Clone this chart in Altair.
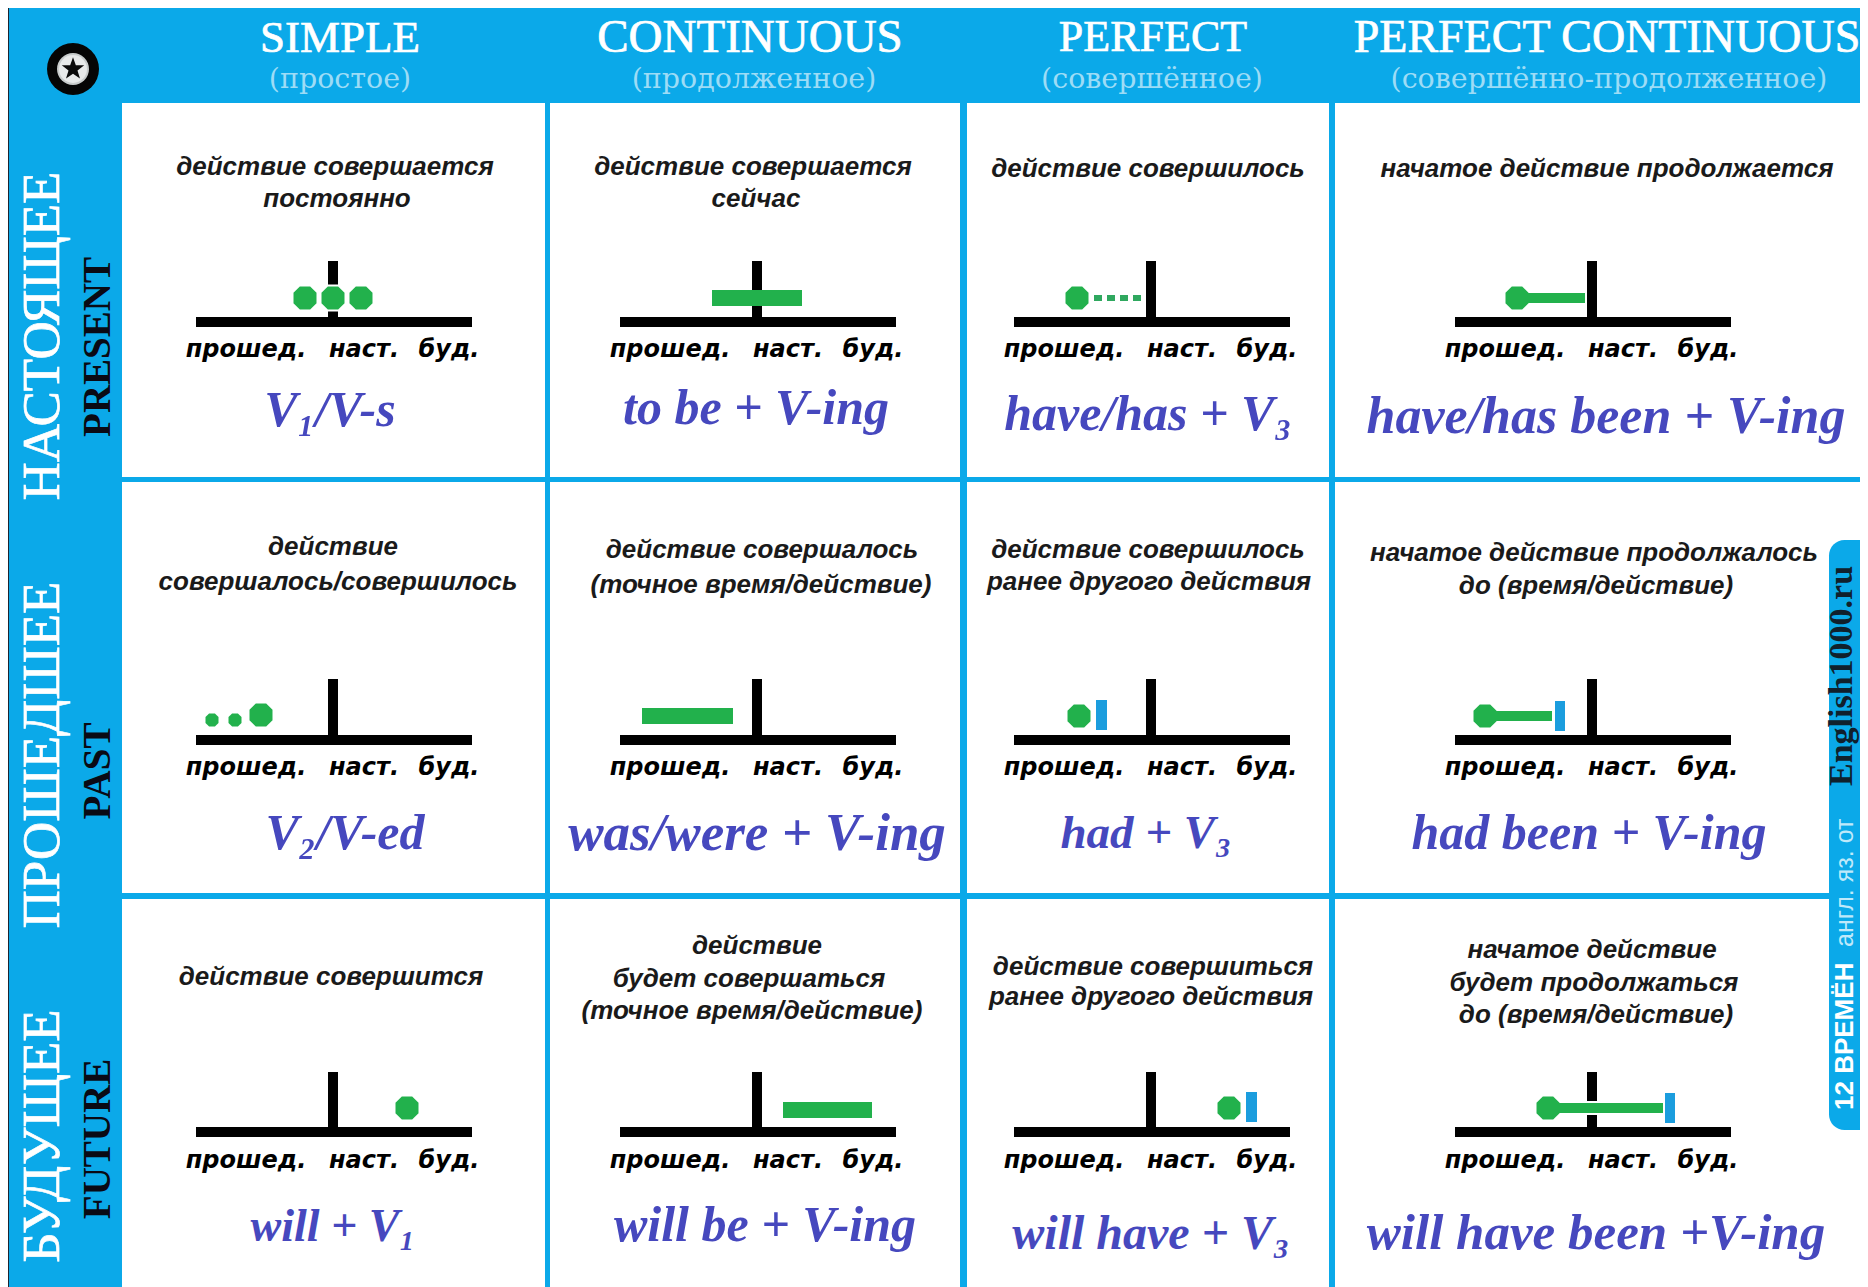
import altair as alt
import pandas as pd

W, H = 1868, 1287
BLUE = "#0BA9E9"
GREEN = "#22B14C"
TICK = "#1B9DDE"
INK = "#4648BE"
VIEW_W = W - 16
VIEW_H = H - 8

# ---- grid
cell_x = [[122, 545], [550, 960], [967, 1329], [1335, 1868]]
cell_y = [[103, 477], [482, 893], [899, 1287]]

# ---- headers
col_heads = ["SIMPLE", "CONTINUOUS", "PERFECT", "PERFECT CONTINUOUS"]
col_head_x = [340, 750, 1153, 1607]
col_head_fs = [45, 47, 44, 46]
col_subs = ["(простое)", "(продолженное)", "(совершённое)", "(совершённо-продолженное)"]
col_sub_x = [340, 754, 1152, 1609]

row_ru = ["НАСТОЯЩЕЕ", "ПРОШЕДШЕЕ", "БУДУЩЕЕ"]
row_ru_y = [336, 755, 1136]
row_en = ["PRESENT", "PAST", "FUTURE"]
row_en_y = [347, 771, 1139]

# ---- descriptions: text, x, y
desc_text = [
    "действие совершается", "постоянно", "действие совершается", "сейчас",
    "действие совершилось", "начатое действие продолжается",
    "действие", "совершалось/совершилось", "действие совершалось", "(точное время/действие)",
    "действие совершилось", "ранее другого действия", "начатое действие продолжалось", "до (время/действие)",
    "действие совершится", "действие", "будет совершаться", "(точное время/действие)",
    "действие совершиться", "ранее другого действия", "начатое действие", "будет продолжаться", "до (время/действие)",
]
desc_x = [335, 337, 753, 756, 1148, 1607, 333, 338, 762, 761, 1148, 1149, 1594, 1596,
          331, 757, 749, 752, 1153, 1151, 1592, 1594, 1596]
desc_y = [167, 199, 167, 199, 169, 169, 547, 582, 550, 585, 550, 582, 553, 586,
          977, 946, 979, 1011, 967, 997, 950, 983, 1015]

# ---- formulas
form_text = ["V₁/V-s", "to be + V-ing", "have/has + V₃", "have/has been + V-ing",
             "V₂/V-ed", "was/were + V-ing", "had + V₃", "had been + V-ing",
             "will + V₁", "will be + V-ing", "will have + V₃", "will have been +V-ing"]
form_x = [330, 756, 1148, 1606, 345, 757, 1146, 1589, 333, 765, 1151, 1596]
form_y = [411, 409, 415, 417, 834, 834, 834, 834, 1227, 1226, 1235, 1234]
form_fs = [50, 50, 50, 52, 50, 53, 47, 50, 46, 50, 48, 51]

# ---- timelines
axis_cx = [333, 757, 1151, 1592]
axis_base = [322, 740, 1132]
axis_top = [261, 679, 1072]
axis_left = -137
axis_right = 139
label_text = ["прошед.", "наст.", "буд."]
label_dx = [-87, 31, 116]
label_y = [350, 768, 1161]

dot_x = [305, 333, 361, 1077, 1517, 261, 1079, 1485, 407, 1229, 1548]
dot_y = [298, 298, 298, 298, 298, 715, 716, 716, 1108, 1108, 1108]
small_dot_x = [212, 235]
small_dot_y = [720, 720]

bar_x = [712, 642, 783]
bar_x2 = [802, 733, 872]
bar_y = [298, 716, 1110]
line_x = [1517, 1485, 1548]
line_x2 = [1585, 1552, 1663]
line_y = [298, 716, 1108]
tick_x = [1096, 1555, 1246, 1665]
tick_x2 = [1107, 1565, 1257, 1675]
tick_y = [700, 701, 1092, 1093]
tick_y2 = [730, 731, 1122, 1123]
dash_x = [1094]
dash_x2 = [1145]
dash_y = [298]

# ---- side tab
tab_text = ["12 ВРЕМЁН", "англ. яз. от", "English1000.ru"]
tab_y = [1110, 947, 786]

OCT = "M-0.45,-1L0.45,-1L1,-0.45L1,0.45L0.45,1L-0.45,1L-1,0.45L-1,-0.45Z"
STAR = "M0,-1L0.24,-0.32L0.95,-0.31L0.38,0.12L0.59,0.81L0,0.4L-0.59,0.81L-0.38,0.12L-0.95,-0.31L-0.24,-0.32Z"

xs = alt.Scale(domain=[8, 8 + VIEW_W], range=[0, VIEW_W])
ys = alt.Scale(domain=[8, 8 + VIEW_H], range=[0, VIEW_H])
X = alt.X("x:Q", scale=xs, axis=None)
Y = alt.Y("y:Q", scale=ys, axis=None)


def cx(v):
    return min(v, 8 + VIEW_W)


def cy(v):
    return min(v, 8 + VIEW_H)


def rects(rows, color, **mk):
    return alt.Chart(pd.DataFrame(rows)).mark_rect(color=color, **mk).encode(
        x=X, x2="x2:Q", y=Y, y2="y2:Q")


def texts(rows, **mk):
    return alt.Chart(pd.DataFrame(rows)).mark_text(**mk).encode(x=X, y=Y, text="t:N")


def points(xl, yl, shape, size, color, **mk):
    return alt.Chart(pd.DataFrame({"x": xl, "y": yl})).mark_point(
        shape=shape, size=size, filled=True, fill=color, opacity=1, **mk).encode(x=X, y=Y)


layers = []
# page furniture
layers.append(rects([{"x": 7, "x2": cx(W), "y": 6, "y2": cy(H)}], "#1d2430"))
layers.append(rects([{"x": 9, "x2": cx(W), "y": 8, "y2": cy(H)}], BLUE))
layers.append(rects([{"x": a, "x2": cx(b), "y": c, "y2": cy(d)} for a, b in cell_x for c, d in cell_y], "#ffffff"))
# emblem
layers.append(points([73], [69], "circle", 2700, "#050505"))
layers.append(points([73], [69], "circle", 1020, "#c8cccc"))
layers.append(points([73], [69], "circle", 780, "#e8eaea"))
layers.append(points([73], [69], STAR, 560, "#0a0a0a"))
# timelines
layers.append(rects([{"x": c + axis_left, "x2": c + axis_right, "y": b - 5, "y2": b + 5}
                     for c in axis_cx for b in axis_base], "#000000"))
layers.append(rects([{"x": c - 5, "x2": c + 5, "y": t, "y2": b}
                     for c in axis_cx for t, b in zip(axis_top, axis_base)], "#000000"))
layers.append(rects([{"x": a, "x2": b, "y": y - 8, "y2": y + 8}
                     for a, b, y in zip(bar_x, bar_x2, bar_y)], GREEN))
layers.append(rects([{"x": a, "x2": b, "y": y - 6, "y2": y + 6}
                     for a, b, y in zip(line_x, line_x2, line_y)], GREEN, stroke="#ffffff", strokeWidth=2))
layers.append(rects([{"x": a, "x2": b, "y": c, "y2": d}
                     for a, b, c, d in zip(tick_x, tick_x2, tick_y, tick_y2)], TICK))
layers.append(alt.Chart(pd.DataFrame({"x": dash_x, "x2": dash_x2, "y": dash_y})).mark_rule(
    color="#2FA85F", strokeWidth=6, strokeDash=[8, 5]).encode(x=X, x2="x2:Q", y=Y))
layers.append(points(dot_x, dot_y, OCT, 625, GREEN, stroke="#ffffff", strokeWidth=2))
layers.append(points(small_dot_x, small_dot_y, OCT, 169, GREEN))
# the line joins its dot without a white seam
layers.append(rects([{"x": a, "x2": b, "y": y - 5, "y2": y + 5}
                     for a, b, y in zip(line_x, line_x2, line_y)], GREEN))
# headers
layers.append(alt.Chart(pd.DataFrame({"t": col_heads, "x": col_head_x, "y": [38] * 4, "fs": col_head_fs})).mark_text(
    font="Liberation Serif", color="#ffffff", stroke="#ffffff", strokeWidth=0.7).encode(
    x=X, y=Y, text="t:N", size=alt.Size("fs:Q", scale=None, legend=None)))
layers.append(texts([{"t": t, "x": x, "y": 79} for t, x in zip(col_subs, col_sub_x)],
                    font="DejaVu Serif", fontSize=28.5, color="#9ddcf6"))
layers.append(texts([{"t": t, "x": 43, "y": y} for t, y in zip(row_ru, row_ru_y)],
                    font="Liberation Serif", fontSize=53, color="#ffffff", stroke="#ffffff", strokeWidth=0.7, angle=270))
layers.append(texts([{"t": t, "x": 98, "y": y} for t, y in zip(row_en, row_en_y)],
                    font="Liberation Serif", fontSize=39, fontWeight="bold", color="#0a0a14", angle=270))
# descriptions
layers.append(texts([{"t": t, "x": x, "y": y} for t, x, y in zip(desc_text, desc_x, desc_y)],
                    font="Liberation Sans", fontSize=26, fontWeight="bold", fontStyle="italic", color="#1a1a1a"))
# axis labels
layers.append(texts([{"t": t, "x": c + dx, "y": y} for c in axis_cx for y in label_y
                     for t, dx in zip(label_text, label_dx)],
                    font="DejaVu Sans", fontSize=24, fontWeight="bold", fontStyle="italic", color="#000000"))
# formulas
layers.append(alt.Chart(pd.DataFrame({"t": form_text, "x": form_x, "y": form_y, "fs": form_fs})).mark_text(
    font="Liberation Serif", fontWeight="bold", fontStyle="italic", color=INK).encode(
    x=X, y=Y, text="t:N", size=alt.Size("fs:Q", scale=None, legend=None)))
# tab
layers.append(alt.Chart(pd.DataFrame({"x": [1829], "x2": [cx(W)], "y": [540], "y2": [1130]})).mark_rect(
    color=BLUE, cornerRadiusTopLeft=24, cornerRadiusBottomLeft=24).encode(x=X, x2="x2:Q", y=Y, y2="y2:Q"))
layers.append(texts([{"t": tab_text[0], "x": 1845, "y": tab_y[0]}], font="Liberation Sans", fontWeight="bold",
                    fontSize=26, color="#ffffff", angle=270, align="left"))
layers.append(texts([{"t": tab_text[1], "x": 1845, "y": tab_y[1]}], font="Liberation Sans",
                    fontSize=25, color="#bfe9fa", angle=270, align="left"))
layers.append(texts([{"t": tab_text[2], "x": 1842, "y": tab_y[2]}], font="Liberation Serif", fontWeight="bold",
                    fontSize=34, color="#10202c", angle=270, align="left"))

chart = alt.layer(*layers).properties(
    width=VIEW_W, height=VIEW_H, padding=0, background="#ffffff",
    autosize=alt.AutoSizeParams(type="none"),
).configure_view(stroke=None)

chart.save("out.html", embed_options={"renderer": "svg", "actions": False})
